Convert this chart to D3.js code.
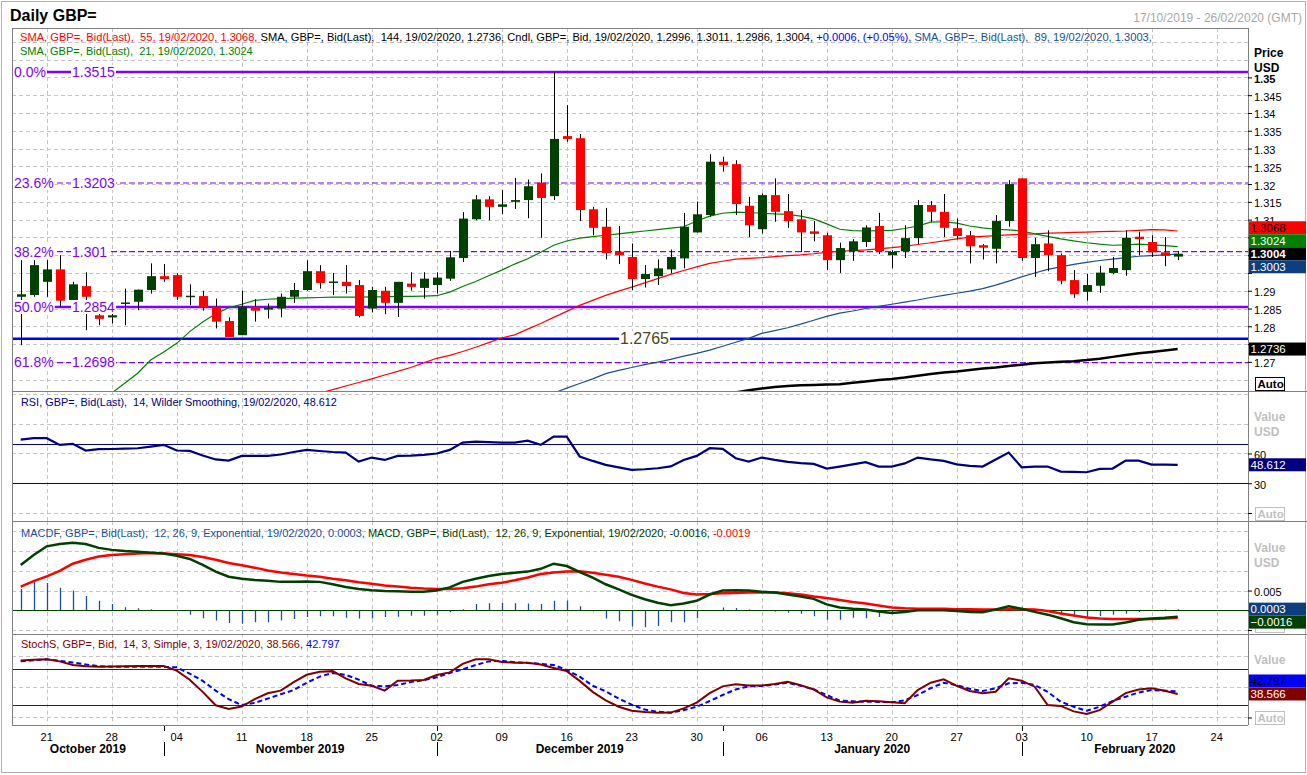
<!DOCTYPE html>
<html>
<head>
<meta charset="utf-8">
<title>Daily GBP=</title>
<script src="https://cdn.jsdelivr.net/npm/d3@7/dist/d3.min.js"></script>
<style>
  body { margin: 0; background: #fff; }
  svg { display: block; font-family: "Liberation Sans", Arial, sans-serif; }
  .pre { white-space: pre; }
</style>
</head>
<body>
<div id="chart-area"></div>
<script>
// trading days run from the first candle to the right end of the axis
let firstDay = new Date(2019, 9, 17)
let lastDay = new Date(2020, 1, 26)

let opens  = [1.2883,1.2888,1.2925,1.2960,1.2874,1.2913,1.2831,1.2825,1.2863,1.2869,1.2902,1.2941,1.2944,1.2884,1.2885,1.2855,1.2815,1.2775,1.2855,1.2847,1.2850,1.2883,1.2902,1.2955,1.2924,1.2925,1.2916,1.2850,1.2900,1.2866,1.2920,1.2908,1.2916,1.2934,1.2992,1.3101,1.3157,1.3136,1.3150,1.3155,1.3204,1.3166,1.3335,1.3329,1.3129,1.3080,1.3010,1.2995,1.2933,1.2941,1.2960,1.2991,1.3064,1.3113,1.3263,1.3256,1.3139,1.3073,1.3169,1.3124,1.3101,1.3067,1.3056,1.2986,1.3011,1.3037,1.3082,1.3000,1.3011,1.3048,1.3141,1.3122,1.3076,1.3056,1.3028,1.3018,1.3096,1.3216,1.2992,1.3033,1.3000,1.2930,1.2897,1.2914,1.2950,1.2958,1.3052,1.3037,1.3008,1.2996]
let highs  = [1.2986,1.2986,1.2986,1.3000,1.2925,1.2952,1.2835,1.2835,1.2906,1.2903,1.2977,1.2975,1.2949,1.2918,1.2900,1.2878,1.2825,1.2900,1.2876,1.2864,1.2892,1.2922,1.2986,1.2972,1.2950,1.2972,1.2930,1.2911,1.2911,1.2925,1.2952,1.2952,1.2952,1.3012,1.3121,1.3169,1.3166,1.3183,1.3217,1.3213,1.3230,1.3515,1.3422,1.3341,1.3136,1.3133,1.3082,1.3033,1.2972,1.2988,1.3016,1.3119,1.3151,1.3284,1.3277,1.3267,1.3164,1.3174,1.3216,1.3172,1.3127,1.3096,1.3063,1.3035,1.3045,1.3084,1.3119,1.3014,1.3084,1.3155,1.3152,1.3172,1.3103,1.3068,1.3031,1.3113,1.3211,1.3216,1.3049,1.3070,1.3005,1.2958,1.2947,1.2970,1.2995,1.3070,1.3066,1.3056,1.3051,1.3011]
let lows   = [1.2747,1.2883,1.2883,1.2855,1.2868,1.2789,1.2803,1.2808,1.2803,1.2845,1.2892,1.2925,1.2874,1.2859,1.2844,1.2794,1.2770,1.2775,1.2813,1.2822,1.2825,1.2866,1.2900,1.2906,1.2888,1.2892,1.2825,1.2839,1.2834,1.2826,1.2900,1.2878,1.2892,1.2928,1.2981,1.3098,1.3098,1.3115,1.3130,1.3104,1.3049,1.3155,1.3319,1.3096,1.3056,1.2988,1.2975,1.2902,1.2909,1.2916,1.2949,1.2963,1.3064,1.3108,1.3235,1.3113,1.3051,1.3061,1.3094,1.3077,1.3009,1.3039,1.2958,1.2950,1.2984,1.3023,1.3003,1.2963,1.2992,1.3031,1.3094,1.3051,1.3044,1.2977,1.2988,1.2977,1.3080,1.2984,1.2939,1.2955,1.2918,1.2880,1.2872,1.2894,1.2946,1.2942,1.3000,1.2995,1.2969,1.2986]
let closes = [1.2890,1.2972,1.2960,1.2872,1.2918,1.2883,1.2821,1.2831,1.2867,1.2903,1.2941,1.2933,1.2883,1.2886,1.2853,1.2813,1.2770,1.2855,1.2844,1.2852,1.2883,1.2902,1.2955,1.2922,1.2926,1.2913,1.2829,1.2902,1.2866,1.2925,1.2911,1.2934,1.2937,1.2994,1.3103,1.3157,1.3136,1.3143,1.3155,1.3194,1.3161,1.3327,1.3327,1.3127,1.3077,1.3006,1.3000,1.2933,1.2947,1.2963,1.2995,1.3080,1.3115,1.3263,1.3253,1.3144,1.3084,1.3169,1.3122,1.3096,1.3064,1.3060,1.2986,1.3020,1.3039,1.3078,1.3011,1.3009,1.3048,1.3141,1.3122,1.3077,1.3054,1.3025,1.3021,1.3096,1.3200,1.2992,1.3031,1.3000,1.2928,1.2890,1.2916,1.2951,1.2964,1.3049,1.3045,1.3008,1.2998,1.3004]

let sma21Start = 7
let sma21 = [1.2612,1.2640,1.2668,1.2705,1.2728,1.2752,1.2785,1.2812,1.2835,1.2852,1.2862,1.2873,1.2876,1.2878,1.2879,1.2880,1.2881,1.2882,1.2882,1.2882,1.2883,1.2883,1.2884,1.2884,1.2885,1.2886,1.2896,1.2912,1.2926,1.2942,1.2958,1.2975,1.2990,1.3008,1.3028,1.3040,1.3048,1.3052,1.3056,1.3060,1.3064,1.3068,1.3072,1.3076,1.3080,1.3096,1.3110,1.3118,1.3121,1.3120,1.3118,1.3116,1.3115,1.3110,1.3102,1.3088,1.3073,1.3069,1.3068,1.3069,1.3070,1.3075,1.3082,1.3093,1.3094,1.3090,1.3082,1.3077,1.3073,1.3071,1.3068,1.3060,1.3053,1.3046,1.3040,1.3035,1.3031,1.3028,1.3029,1.3031,1.3029,1.3027,1.3024]
let sma55Start = 23
let sma55 = [1.2612,1.2622,1.2632,1.2642,1.2652,1.2663,1.2673,1.2684,1.2697,1.2710,1.2718,1.2729,1.2741,1.2754,1.2767,1.2776,1.2792,1.2808,1.2825,1.2842,1.2859,1.2873,1.2887,1.2899,1.2910,1.2922,1.2934,1.2946,1.2957,1.2967,1.2977,1.2983,1.2989,1.2991,1.2993,1.2996,1.2999,1.3001,1.3004,1.3008,1.3011,1.3013,1.3015,1.3018,1.3021,1.3025,1.3030,1.3035,1.3040,1.3046,1.3051,1.3053,1.3055,1.3057,1.3059,1.3060,1.3062,1.3063,1.3064,1.3065,1.3066,1.3067,1.3068,1.3070,1.3072,1.3071,1.3068]
let sma89Start = 41
let sma89 = [1.2612,1.2626,1.2639,1.2652,1.2667,1.2676,1.2684,1.2692,1.2699,1.2707,1.2716,1.2724,1.2733,1.2744,1.2755,1.2766,1.2780,1.2788,1.2796,1.2806,1.2817,1.2828,1.2837,1.2843,1.2850,1.2856,1.2862,1.2868,1.2874,1.2881,1.2887,1.2893,1.2899,1.2906,1.2916,1.2927,1.2939,1.2950,1.2960,1.2967,1.2974,1.2980,1.2985,1.2989,1.2993,1.2997,1.2999,1.3001,1.3003]
let sma144Start = 55
let sma144 = [1.2614,1.2620,1.2625,1.2629,1.2632,1.2634,1.2635,1.2636,1.2637,1.2641,1.2645,1.2649,1.2652,1.2656,1.2661,1.2666,1.2670,1.2673,1.2677,1.2681,1.2684,1.2688,1.2692,1.2696,1.2698,1.2700,1.2702,1.2705,1.2709,1.2714,1.2719,1.2724,1.2728,1.2732,1.2736]

let fibPct = ["0.0%", "23.6%", "38.2%", "50.0%", "61.8%"]
let fibLevels = [1.3515, 1.3203, 1.301, 1.2854, 1.2698]
let supportLevel = 1.2765

let rsi = [74,75.4,75.4,68.7,69.7,63,64.3,64.5,65,65.3,67,68.7,63,62.6,58,54,52.8,57.6,57.6,57.6,59,61.5,63.6,62.5,61.5,60.9,51.8,55.9,53.5,57.6,57.8,58.6,60,63.6,71,72,71.5,71,71,73,68.7,77.1,77.1,57,52.5,48.5,46,43.4,44.1,45.1,47,53.5,57.6,65.3,64.6,55.2,51.8,55.9,53.5,51.5,50.2,49.5,44.8,46.8,49,51.2,46.8,46.8,50,55.9,54,52.5,49,47.5,46.8,54,60.9,46.1,46.8,46.8,41.7,41.4,41.1,44.4,44.8,52.8,52.8,48.8,48.7,48.612]

let macd = [0.0115,0.0140,0.0162,0.0168,0.0171,0.0168,0.0158,0.0153,0.0150,0.0148,0.0146,0.0144,0.0138,0.0130,0.0115,0.0098,0.0085,0.0080,0.0077,0.0075,0.0072,0.0072,0.0073,0.0072,0.0066,0.0059,0.0054,0.0051,0.0049,0.0048,0.0047,0.0047,0.0050,0.0058,0.0072,0.0080,0.0087,0.0092,0.0095,0.0098,0.0105,0.0118,0.0112,0.0097,0.0083,0.0066,0.0053,0.0039,0.0028,0.0019,0.0013,0.0017,0.0024,0.0040,0.0050,0.0051,0.0050,0.0047,0.0045,0.0040,0.0035,0.0029,0.0015,0.0007,0.0004,0.0002,-0.0003,-0.0007,-0.0004,0.0000,0.0000,0.0000,-0.0002,-0.0004,-0.0005,0.0002,0.0010,0.0004,-0.0004,-0.0011,-0.0020,-0.0030,-0.0035,-0.0036,-0.0036,-0.0031,-0.0024,-0.0021,-0.0019,-0.0016]
let signal = [0.0060,0.0074,0.0086,0.0100,0.0118,0.0128,0.0136,0.0140,0.0142,0.0144,0.0145,0.0144,0.0142,0.0140,0.0135,0.0128,0.0120,0.0114,0.0108,0.0101,0.0096,0.0092,0.0088,0.0085,0.0080,0.0076,0.0071,0.0067,0.0063,0.0060,0.0057,0.0055,0.0054,0.0054,0.0056,0.0060,0.0066,0.0070,0.0076,0.0083,0.0092,0.0096,0.0098,0.0099,0.0095,0.0090,0.0085,0.0077,0.0068,0.0060,0.0053,0.0044,0.0040,0.0041,0.0043,0.0044,0.0045,0.0045,0.0045,0.0043,0.0040,0.0035,0.0031,0.0026,0.0021,0.0017,0.0012,0.0007,0.0005,0.0004,0.0004,0.0004,0.0003,0.0003,0.0002,0.0002,0.0003,0.0003,0.0002,-0.0002,-0.0008,-0.0013,-0.0018,-0.0021,-0.0022,-0.0022,-0.0022,-0.0022,-0.0021,-0.0019]
let macdHist = [0.0054,0.0072,0.0069,0.0057,0.0050,0.0036,0.0024,0.0016,0.0008,0.0005,0.0003,0.0001,-0.0001,-0.0011,-0.0020,-0.0026,-0.0032,-0.0034,-0.0030,-0.0030,-0.0026,-0.0022,-0.0017,-0.0015,-0.0015,-0.0019,-0.0021,-0.0021,-0.0017,-0.0016,-0.0014,-0.0014,-0.0011,-0.0005,0.0003,0.0016,0.0018,0.0019,0.0018,0.0017,0.0016,0.0024,0.0025,0.0010,-0.0003,-0.0021,-0.0028,-0.0041,-0.0043,-0.0040,-0.0030,-0.0030,-0.0020,0.0000,0.0007,0.0006,0.0002,0.0001,-0.0003,-0.0006,-0.0009,-0.0015,-0.0024,-0.0024,-0.0019,-0.0020,-0.0017,-0.0009,-0.0004,0.0000,0.0002,0.0002,0.0000,0.0000,-0.0002,0.0000,0.0004,0.0007,0.0002,-0.0003,-0.0007,-0.0015,-0.0017,-0.0015,-0.0011,-0.0009,-0.0004,-0.0002,0.0002,0.0003]

let stochK = [93.5,94.5,95.4,92,86,84,83.3,83.5,84,84.4,84.4,84.4,76.8,62,42,20,14,18,30,39.7,44,58,70,75,76,64,55,52,44,60.3,60.5,61.5,69.7,74,88,95.4,95.4,91,89.9,89.9,87,81,76,60,42,28,17.7,11,9,7.9,8,15,24.3,40,51,54.4,52.5,52.5,55,58.7,53,46,33,26,24,27.5,26.5,25,23.3,45,57,62.6,52,43.4,39.7,42.3,64.2,60.3,50.5,20.5,19,10,5.7,12,26,40,46,47.8,44,38.566]
let stochD = [92,94,95.4,93,90,87,84,83.3,83.3,83.3,83.3,83,82.2,72,60,44,30,20.5,24,31,38,45,57,67,73,70,62,52,51,53.3,58,61.2,65.9,73,79,86,92,93,90.5,89.5,88,86,78,67,52,43,31,21,13,9.5,7.9,12,17.7,27,36.9,46,51,51.6,54,57,52,46.2,37,27.5,26.5,25.9,25.5,25,28,36.9,48,57,53,47,43.4,48,56,57,53.3,42,26,17.7,11,17.7,27,34.1,41,45,44,42.797]

let priceTicks = [1.27,1.275,1.28,1.285,1.29,1.295,1.3,1.305,1.31,1.315,1.32,1.325,1.33,1.335,1.34,1.345,1.35]
let rsiTicks = [0, 30, 60]
let macdTicks = [-0.005, 0, 0.005]
let monthNames = ["October 2019", "November 2019", "December 2019", "January 2020", "February 2020"]

// ---- layout ----
let width = 1307, height = 775
let plotLeft = 12, plotRight = 1248
let priceTop = 28, rsiTop = 391, macdTop = 521, stochTop = 633.5, stochBottom = 725
let gridColor = "#c4c4c4"
let px = v => Math.round(v) + 0.5

let days = d3.timeDay.range(firstDay, d3.timeDay.offset(lastDay, 1))
  .filter(d => d.getDay() !== 0 && d.getDay() !== 6)

let x = d3.scaleLinear().domain([-0.669, days.length - 0.59]).range([plotLeft, plotRight])
let yPrice = d3.scaleLinear().domain([1.2618, 1.3639]).range([rsiTop, priceTop])
let yRsi = d3.scaleLinear().domain([-8.07, 123.0]).range([macdTop, rsiTop])
let yMacd = d3.scaleLinear().domain([-0.00587, 0.02261]).range([stochTop, macdTop])
let yStoch = d3.scaleLinear().domain([-12.3, 137.7]).range([stochBottom, stochTop])

let svg = d3.select("#chart-area").append("svg")
  .attr("width", width)
  .attr("height", height)

svg.append("rect").attr("width", width).attr("height", height).attr("fill", "#fff")

let defs = svg.append("defs")
let clip = (id, top, bottom) => {
  defs.append("clipPath").attr("id", id).append("rect")
    .attr("x", plotLeft).attr("y", top).attr("width", plotRight - plotLeft).attr("height", bottom - top)
  return svg.append("g").attr("clip-path", "url(#" + id + ")")
}

// ---- grids ----
let mondays = days.map((d, i) => d.getDay() === 1 ? i : -1).filter(i => i >= 0)

let gridV = (g, top, bottom) => {
  g.append("g").selectAll("line").data(mondays).join("line")
    .attr("x1", i => px(x(i))).attr("x2", i => px(x(i)))
    .attr("y1", top).attr("y2", bottom)
    .attr("stroke", gridColor).attr("stroke-dasharray", "4,3")
}
let gridH = (g, scale, values) => {
  g.append("g").selectAll("line").data(values).join("line")
    .attr("x1", plotLeft).attr("x2", plotRight)
    .attr("y1", v => px(scale(v))).attr("y2", v => px(scale(v)))
    .attr("stroke", gridColor).attr("stroke-dasharray", "4,3")
}

let priceG = clip("clipPrice", priceTop, rsiTop)
let rsiG = clip("clipRsi", rsiTop, macdTop)
let macdG = clip("clipMacd", macdTop, stochTop)
let stochG = clip("clipStoch", stochTop, stochBottom)

gridV(priceG, priceTop, rsiTop)
gridH(priceG, yPrice, d3.range(0, 21).map(k => 1.265 + k * 0.005))
gridV(rsiG, rsiTop, macdTop)
gridH(rsiG, yRsi, [0, 60, 90, 120])
gridV(macdG, macdTop, stochTop)
gridH(macdG, yMacd, [-0.005, 0.005, 0.01, 0.015, 0.02])
gridV(stochG, stochTop, stochBottom)
gridH(stochG, yStoch, [0, 50, 100])

// ---- header texts ----
let header = (x0, y0, parts, target) => {
  let t = svg.append("text").attr("class", "pre").attr("x", x0).attr("y", y0).style("font-size", "11px")
  parts.forEach(p => t.append("tspan").attr("fill", p[1]).text(p[0]))
  let w = t.node().getComputedTextLength()
  t.style("font-size", (11 * target / w) + "px")
}

header(20, 41, [
  ["SMA, GBP=, Bid(Last),  55, 19/02/2020, 1.3068, ", "#ff0000"],
  ["SMA, GBP=, Bid(Last),  144, 19/02/2020, 1.2736, Cndl, GBP=, Bid, 19/02/2020, 1.2996, 1.3011, 1.2986, 1.3004, ", "#000"],
  ["+0.0006, (+0.05%), ", "#0000ff"],
  ["SMA, GBP=, Bid(Last),  89, 19/02/2020, 1.3003,", "#1c4f8f"]
], 1133)
header(20, 55, [["SMA, GBP=, Bid(Last),  21, 19/02/2020, 1.3024", "#008000"]], 233)

// ---- price panel ----
let mline = (scale) => d3.line().x(d => x(d[0])).y(d => scale(d[1]))
let withIdx = (start, vals) => vals.map((v, k) => [start + k, v])

// fibonacci levels
fibLevels.forEach((lv, k) => {
  let solid = fibPct[k] === "0.0%" || fibPct[k] === "50.0%"
  priceG.append("line")
    .attr("x1", plotLeft).attr("x2", plotRight)
    .attr("y1", yPrice(lv)).attr("y2", yPrice(lv))
    .attr("stroke", "#8000ff")
    .attr("stroke-width", solid ? 2.5 : 1.2)
    .attr("stroke-dasharray", solid ? null : "6,3")
})

priceG.append("line")
  .attr("x1", plotLeft).attr("x2", plotRight)
  .attr("y1", yPrice(supportLevel)).attr("y2", yPrice(supportLevel))
  .attr("stroke", "#0000ff").attr("stroke-width", 2.5)

priceG.append("path").datum(withIdx(sma144Start, sma144))
  .attr("d", mline(yPrice)).attr("fill", "none").attr("stroke", "#000").attr("stroke-width", 2.5)
priceG.append("path").datum(withIdx(sma89Start, sma89))
  .attr("d", mline(yPrice)).attr("fill", "none").attr("stroke", "#1c4f8f").attr("stroke-width", 1.2)
priceG.append("path").datum(withIdx(sma55Start, sma55))
  .attr("d", mline(yPrice)).attr("fill", "none").attr("stroke", "#ff0000").attr("stroke-width", 1.2)
priceG.append("path").datum(withIdx(sma21Start, sma21))
  .attr("d", mline(yPrice)).attr("fill", "none").attr("stroke", "#008000").attr("stroke-width", 1.2)

// candles
let idx = d3.range(closes.length)
priceG.append("g").selectAll("line").data(idx).join("line")
  .attr("x1", i => px(x(i))).attr("x2", i => px(x(i)))
  .attr("y1", i => yPrice(highs[i])).attr("y2", i => yPrice(lows[i]))
  .attr("stroke", "#000").attr("stroke-width", 1)
priceG.append("g").selectAll("rect").data(idx).join("rect")
  .attr("x", i => Math.round(x(i)) - 4)
  .attr("width", 9)
  .attr("y", i => yPrice(Math.max(opens[i], closes[i])))
  .attr("height", i => Math.max(1.5, Math.abs(yPrice(opens[i]) - yPrice(closes[i]))))
  .attr("fill", i => closes[i] >= opens[i] ? "#004000" : "#ff0000")

// labels on the fib lines
let boxedText = (g, tx, ty, str, size, color) => {
  let t = g.append("text").attr("x", tx).attr("y", ty).attr("dy", "0.35em")
    .style("font-size", size + "px").attr("fill", color).text(str)
  let b = t.node().getBBox()
  g.insert("rect", () => t.node())
    .attr("x", b.x - 1).attr("y", b.y + 1).attr("width", b.width + 2).attr("height", b.height - 2)
    .attr("fill", "#fff")
  return t
}
fibLevels.forEach((lv, k) => {
  boxedText(priceG, 14, yPrice(lv), fibPct[k], 14, "#8000ff")
  boxedText(priceG, 72, yPrice(lv), String(lv), 14, "#8000ff")
})
boxedText(priceG, 620, yPrice(supportLevel), String(supportLevel), 16, "#4d4526")

// ---- RSI panel ----
svg.append("text").attr("class", "pre").attr("x", 21).attr("y", 405.5)
  .attr("fill", "#000080").style("font-size", "11px")
  .text("RSI, GBP=, Bid(Last),  14, Wilder Smoothing, 19/02/2020, 48.612")
  .call(t => t.style("font-size", (11 * 316 / t.node().getComputedTextLength()) + "px"))

rsiG.selectAll("line.band").data([70, 30]).join("line")
  .attr("x1", plotLeft).attr("x2", plotRight)
  .attr("y1", v => px(yRsi(v))).attr("y2", v => px(yRsi(v)))
  .attr("stroke", "#000080")
rsiG.append("path").datum(withIdx(0, rsi))
  .attr("d", mline(yRsi)).attr("fill", "none").attr("stroke", "#000080").attr("stroke-width", 2.2)

// ---- MACD panel ----
header(21, 537, [
  ["MACDF, GBP=, Bid(Last),  12, 26, 9, Exponential, 19/02/2020, 0.0003, ", "#1a4f9c"],
  ["MACD, GBP=, Bid(Last),  12, 26, 9, Exponential, 19/02/2020, -0.0016, ", "#004000"],
  ["-0.0019", "#ff0000"]
], 730)

macdG.append("g").selectAll("line").data(idx).join("line")
  .attr("x1", i => px(x(i))).attr("x2", i => px(x(i)))
  .attr("y1", yMacd(0)).attr("y2", i => yMacd(macdHist[i]))
  .attr("stroke", "#1a4f9c").attr("stroke-width", 1.3)
macdG.append("line")
  .attr("x1", plotLeft).attr("x2", plotRight)
  .attr("y1", px(yMacd(0))).attr("y2", px(yMacd(0)))
  .attr("stroke", "#004000")
macdG.append("path").datum(withIdx(0, signal))
  .attr("d", mline(yMacd)).attr("fill", "none").attr("stroke", "#ff0000").attr("stroke-width", 2.5)
macdG.append("path").datum(withIdx(0, macd))
  .attr("d", mline(yMacd)).attr("fill", "none").attr("stroke", "#004000").attr("stroke-width", 2.5)

// ---- Stochastic panel ----
header(21, 648, [
  ["StochS, GBP=, Bid,  14, 3, Simple, 3, 19/02/2020, 38.566, ", "#800000"],
  ["42.797", "#0000ff"]
], 319)

stochG.selectAll("line.band").data([80, 20]).join("line")
  .attr("x1", plotLeft).attr("x2", plotRight)
  .attr("y1", v => px(yStoch(v))).attr("y2", v => px(yStoch(v)))
  .attr("stroke", "#800000")
stochG.append("path").datum(withIdx(0, stochD))
  .attr("d", mline(yStoch)).attr("fill", "none").attr("stroke", "#0000ff")
  .attr("stroke-width", 2).attr("stroke-dasharray", "5,3")
stochG.append("path").datum(withIdx(0, stochK))
  .attr("d", mline(yStoch)).attr("fill", "none").attr("stroke", "#800000").attr("stroke-width", 2)

// ---- frames ----
let frame = svg.append("g").attr("stroke", "#808080").attr("fill", "none")
frame.append("rect").attr("x", 1.5).attr("y", 1.5).attr("width", width - 3).attr("height", height - 4).attr("stroke", "#b0b0b0")
frame.append("line").attr("x1", plotLeft + 0.5).attr("x2", plotLeft + 0.5).attr("y1", priceTop).attr("y2", stochBottom)
frame.append("line").attr("x1", plotRight + 0.5).attr("x2", plotRight + 0.5).attr("y1", priceTop).attr("y2", stochBottom)
frame.append("line").attr("x1", plotLeft).attr("x2", plotRight).attr("y1", priceTop + 0.5).attr("y2", priceTop + 0.5)
frame.append("line").attr("x1", plotLeft).attr("x2", plotRight).attr("y1", stochBottom + 0.5).attr("y2", stochBottom + 0.5)
;[rsiTop, macdTop, stochTop].forEach(y0 => {
  frame.append("line").attr("x1", plotLeft).attr("x2", width).attr("y1", px(y0)).attr("y2", px(y0))
})

// ---- value tags (computed first so covered tick labels can be dropped) ----
let tagH = 13
let layoutTags = (scale, list) => {
  let placed = list.map(t => ({ t: t, c: scale(t.v) }))
  let anchor = placed[0]
  let above = placed.slice(1).filter(p => p.c <= anchor.c).sort((a, b) => b.c - a.c)
  let below = placed.slice(1).filter(p => p.c > anchor.c).sort((a, b) => a.c - b.c)
  let edge = anchor.c - tagH / 2
  above.forEach(p => { p.c = Math.min(p.c, edge - tagH / 2); edge = p.c - tagH / 2 })
  edge = anchor.c + tagH / 2
  below.forEach(p => { p.c = Math.max(p.c, edge + tagH / 2); edge = p.c + tagH / 2 })
  return placed
}
let f4 = d3.format(".4f"), f3 = d3.format(".3f")
let last = arr => arr[arr.length - 1]
let priceTags = layoutTags(yPrice, [
  { v: last(closes), label: f4(last(closes)), bg: "#000", fg: "#fff", bold: true },
  { v: last(sma55), label: f4(last(sma55)), bg: "#ff0000", fg: "#000" },
  { v: last(sma21), label: f4(last(sma21)), bg: "#008000", fg: "#fff" },
  { v: last(sma89), label: f4(last(sma89)), bg: "#0d3f7f", fg: "#fff" }
]).concat(layoutTags(yPrice, [{ v: last(sma144), label: f4(last(sma144)), bg: "#000", fg: "#fff" }]))
let rsiTags = layoutTags(yRsi, [{ v: last(rsi), label: f3(last(rsi)), bg: "#000080", fg: "#fff" }])
let macdTags = layoutTags(yMacd, [
  { v: last(macdHist), label: f4(last(macdHist)), bg: "#0d3f7f", fg: "#fff" },
  { v: last(macd), label: f4(last(macd)), bg: "#004000", fg: "#fff" }
])
let stochTags = layoutTags(yStoch, [
  { v: last(stochK), label: f3(last(stochK)), bg: "#800000", fg: "#fff" },
  { v: last(stochD), label: f3(last(stochD)), bg: "#0000ff", fg: "#000" }
])
let allTags = priceTags.concat(rsiTags, macdTags, stochTags)
let underTag = yy => allTags.some(p => yy > p.c - tagH / 2 && yy < p.c + tagH / 2)

// ---- right axes ----
let styleAxis = (g) => {
  g.select(".domain").remove()
  g.selectAll(".tick line").attr("stroke", "#000")
  g.selectAll(".tick text").attr("x", 6).attr("dy", "0.45em")
    .style("font-size", "11px").style("font-family", "Liberation Sans, Arial, sans-serif").attr("fill", "#000")
}

svg.append("g").attr("transform", "translate(" + plotRight + ",0)")
  .call(d3.axisRight(yPrice).tickValues(priceTicks).tickSize(4)
    .tickFormat(d => underTag(yPrice(d)) ? "" : d3.format(".3~f")(d)))
  .call(styleAxis)
  .call(g => g.selectAll(".tick text").filter(d => d === 1.35).style("font-weight", "bold"))

svg.append("g").attr("transform", "translate(" + plotRight + ",0)")
  .call(d3.axisRight(yRsi).tickValues(rsiTicks).tickSize(4).tickFormat(d => d === 0 ? "" : d))
  .call(styleAxis)

svg.append("g").attr("transform", "translate(" + plotRight + ",0)")
  .call(d3.axisRight(yMacd).tickValues(macdTicks).tickSize(4).tickFormat(d => d === 0.005 ? "0.005" : ""))
  .call(styleAxis)

svg.append("g").attr("transform", "translate(" + plotRight + ",0)")
  .call(d3.axisRight(yStoch).tickValues([0]).tickSize(4).tickFormat(""))
  .call(styleAxis)

let unitLabel = (top, first, color) => {
  ;[first, "USD"].forEach((s, k) => {
    if (k === 1 && underTag(top + 15 - 4)) return
    svg.append("text").attr("x", 1254).attr("y", top + k * 15)
      .style("font-size", "12px").style("font-weight", "bold").attr("fill", color).text(s)
  })
}
unitLabel(57, "Price", "#000")
unitLabel(421, "Value", "#c0c0c0")
unitLabel(552, "Value", "#c0c0c0")
unitLabel(664, "Value", "#c0c0c0")

let autoBox = (y0, color) => {
  svg.append("rect").attr("x", 1255.5).attr("y", y0 + 0.5).attr("width", 29).attr("height", 13)
    .attr("fill", "#fff").attr("stroke", color)
  svg.append("text").attr("x", 1257.5).attr("y", y0 + 11)
    .style("font-size", "11.5px").style("font-weight", "bold").attr("fill", color).text("Auto")
}
autoBox(377, "#000")
autoBox(507, "#c0c0c0")
autoBox(711, "#c0c0c0")
// the MACD "Auto" box sits under its value tags; only its lower rim shows
svg.append("rect").attr("x", 1255.5).attr("y", 621.5).attr("width", 29).attr("height", 11)
  .attr("fill", "#fff").attr("stroke", "#c0c0c0")

allTags.forEach(p => {
  svg.append("rect").attr("x", 1249).attr("y", p.c - tagH / 2).attr("width", 57).attr("height", tagH)
    .attr("fill", p.t.bg)
  svg.append("text").attr("x", 1250.5).attr("y", p.c).attr("dy", "0.38em")
    .style("font-size", "11.5px").style("font-weight", p.t.bold ? "bold" : "normal")
    .attr("fill", p.t.fg).text(p.t.label)
})

// ---- date axis ----
let dayFmt = d3.timeFormat("%d")
svg.append("g").selectAll("text").data(mondays).join("text")
  .attr("x", i => x(i)).attr("y", 741)
  .attr("text-anchor", "middle").style("font-size", "11px").attr("fill", "#000")
  .text(i => dayFmt(days[i]))

let monthStarts = days.map((d, i) => i > 0 && d.getMonth() !== days[i - 1].getMonth() ? i : -1).filter(i => i >= 0)
let seps = [plotLeft].concat(monthStarts.map(i => x(i))).concat([plotRight])
svg.append("g").selectAll("line").data(monthStarts).join("line")
  .attr("x1", i => px(x(i))).attr("x2", i => px(x(i))).attr("y1", 726).attr("y2", 731).attr("stroke", "#000")
svg.append("g").selectAll("line").data(monthStarts).join("line")
  .attr("x1", i => px(x(i))).attr("x2", i => px(x(i))).attr("y1", 742).attr("y2", 756).attr("stroke", "#000")
svg.append("g").selectAll("text").data(monthNames).join("text")
  .attr("x", (m, k) => (seps[k] + seps[k + 1]) / 2).attr("y", 753)
  .attr("text-anchor", "middle").style("font-size", "12px").style("font-weight", "bold").attr("fill", "#000")
  .text(m => m)

// ---- title ----
svg.append("text").attr("x", 10).attr("y", 21)
  .style("font-size", "16px").style("font-weight", "bold").attr("fill", "#000").text("Daily GBP=")
svg.append("text").attr("x", 1302).attr("y", 22).attr("text-anchor", "end")
  .style("font-size", "12px").attr("fill", "#a8a8a8").text("17/10/2019 - 26/02/2020 (GMT)")
</script>
</body>
</html>
